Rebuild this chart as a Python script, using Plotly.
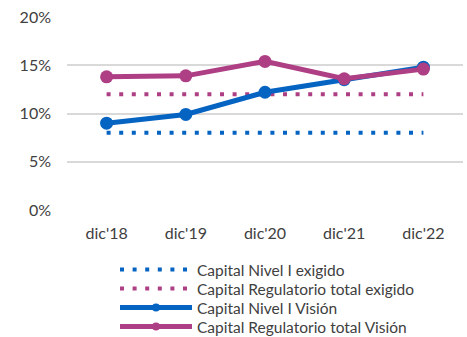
import plotly.graph_objects as go

periodos = ["dic'18", "dic'19", "dic'20", "dic'21", "dic'22"]
nivel1_exigido = [8.0, 8.0, 8.0, 8.0, 8.0]
regulatorio_exigido = [12.0, 12.0, 12.0, 12.0, 12.0]
nivel1_vision = [9.0, 9.9, 12.2, 13.5, 14.8]
regulatorio_vision = [13.8, 13.9, 15.4, 13.6, 14.6]

AZUL = "#0563C1"
MORADO = "#AE3F84"
TEXTO = "#404040"
FUENTE = "Lato, 'Open Sans', sans-serif"
PUNTEADO = "4px,8.6px"

series = [
    ("Capital Nivel I exigido", nivel1_exigido, AZUL, False, "legend", 270),
    ("Capital Regulatorio total exigido", regulatorio_exigido, MORADO, False, "legend2", 289),
    ("Capital Nivel I Visión", nivel1_vision, AZUL, True, "legend3", 308),
    ("Capital Regulatorio total Visión", regulatorio_vision, MORADO, True, "legend4", 327),
]

fig = go.Figure()
for nombre, valores, color, con_marcador, leyenda_id, _ in series:
    if con_marcador:
        fig.add_trace(go.Scatter(x=periodos, y=valores, name=nombre, mode="lines+markers",
                                 line=dict(color=color, width=5),
                                 marker=dict(size=13, color=color), showlegend=False))
        # legend entry with a smaller marker than the plotted points
        fig.add_trace(go.Scatter(x=[None], y=[None], name=nombre, mode="lines+markers",
                                 line=dict(color=color, width=5),
                                 marker=dict(size=8, color=color), legend=leyenda_id))
    else:
        fig.add_trace(go.Scatter(x=periodos, y=valores, name=nombre, mode="lines",
                                 line=dict(color=color, width=4, dash=PUNTEADO),
                                 legend=leyenda_id))


def leyenda(centro_y):
    # one legend row, centred vertically on the given pixel row
    return dict(orientation="v", xref="container", yref="container",
                x=115 / 467, y=1 - centro_y / 337, xanchor="left", yanchor="middle",
                itemwidth=72, font=dict(size=15.5, color=TEXTO),
                bgcolor="rgba(0,0,0,0)")


fig.update_layout(
    width=467, height=337,
    margin=dict(l=67, r=4, t=17, b=127, autoexpand=False),
    paper_bgcolor="white", plot_bgcolor="white",
    font=dict(family=FUENTE, color=TEXTO, size=15),
    xaxis=dict(type="category", range=[-0.5, 4.5], showgrid=False, showline=False,
               ticks="", tickangle=0, tickfont=dict(size=16, color=TEXTO),
               ticklabelstandoff=12),
    yaxis=dict(range=[0, 20], dtick=5, ticksuffix="%", showgrid=True,
               gridcolor="#D9D9D9", gridwidth=1.5, zeroline=False, showline=False,
               tickfont=dict(size=16, color=TEXTO), ticklabelstandoff=15),
    showlegend=True,
)
fig.update_layout({leyenda_id: leyenda(cy) for *_, leyenda_id, cy in series})

fig.write_html("out.html")
